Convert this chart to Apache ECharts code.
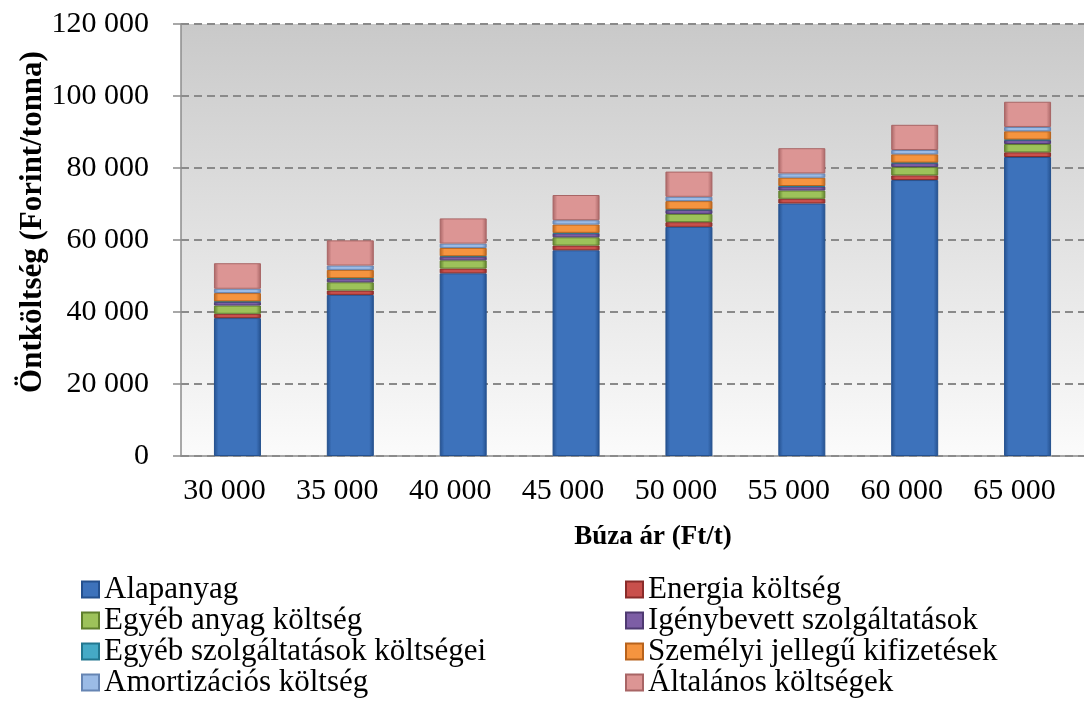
<!DOCTYPE html>
<html>
<head>
<meta charset="utf-8">
<script src="https://cdn.jsdelivr.net/npm/echarts@6/dist/echarts.min.js"></script>
<style>
  html, body { margin: 0; padding: 0; background: #fff; }
  #chart { width: 1084px; height: 701px; }
</style>
</head>
<body>
<div id="chart"></div>
<script>
// Búza ár (Ft/t) kategóriák
var categories = ['30 000', '35 000', '40 000', '45 000', '50 000', '55 000', '60 000', '65 000']

// költségelemek (Ft/tonna)
var alapanyag = [38300, 44750, 50750, 57150, 63650, 70150, 76650, 83050]
var energia = [1200, 1200, 1300, 1300, 1300, 1300, 1300, 1300]
var egyebAnyag = [2300, 2300, 2300, 2300, 2300, 2300, 2300, 2300]
var igenybevett = [1000, 1000, 1000, 1100, 1100, 1100, 1100, 1100]
var egyebSzolg = [150, 150, 150, 150, 150, 150, 150, 150]
var szemelyi = [2300, 2300, 2300, 2300, 2300, 2300, 2300, 2300]
var amortizacio = [1200, 1200, 1200, 1200, 1200, 1200, 1200, 1200]
var altalanos = [7100, 7000, 7000, 7000, 7000, 7000, 7000, 7000]

var seriesNames = ['Alapanyag', 'Energia költség', 'Egyéb anyag költség', 'Igénybevett szolgáltatások',
    'Egyéb szolgáltatások költségei', 'Személyi jellegű kifizetések', 'Amortizációs költség', 'Általános költségek']
var seriesData = [alapanyag, energia, egyebAnyag, igenybevett, egyebSzolg, szemelyi, amortizacio, altalanos]
// [fő szín, sötét él]
var colors = [
    ['#3d72bb', '#24508e'],
    ['#c9504c', '#8a2c2a'],
    ['#9dc25a', '#5f7f2c'],
    ['#7d5ea5', '#4f3a72'],
    ['#45aac6', '#22778f'],
    ['#f5943f', '#b8631c'],
    ['#9bbbe6', '#6685b3'],
    ['#dc9594', '#a86565']
]

var font = 'Liberation Serif, Times New Roman, serif'

function bevel(c) {
    return {
        type: 'linear', x: 0, y: 0, x2: 1, y2: 0,
        colorStops: [
            { offset: 0, color: c[1] },
            { offset: 0.1, color: c[0] },
            { offset: 0.9, color: c[0] },
            { offset: 1, color: c[1] }
        ]
    }
}

var series = []
for (var i = 0; i < seriesNames.length; i++) {
    series.push({
        name: seriesNames[i],
        type: 'bar',
        stack: 'total',
        barWidth: 47,
        data: seriesData[i],
        itemStyle: {
            color: bevel(colors[i]),
            borderColor: colors[i][1],
            borderWidth: 1
        },
        emphasis: { disabled: true }
    })
}

var legendStyle = {
    orient: 'vertical',
    top: 574,
    height: 130,
    padding: 0,
    itemGap: 0,
    itemWidth: 17,
    itemHeight: 16,
    icon: 'rect',
    textStyle: { fontFamily: font, fontSize: 31, color: '#000', lineHeight: 31 }
}

var option = {
    animation: false,
    backgroundColor: '#fff',
    grid: {
        left: 181,
        right: -1,
        top: 24,
        bottom: 245,
        show: true,
        borderWidth: 0,
        backgroundColor: {
            type: 'linear', x: 0, y: 0, x2: 0, y2: 1,
            colorStops: [
                { offset: 0, color: '#c9c9c9' },
                { offset: 1, color: '#fbfbfb' }
            ]
        }
    },
    legend: [
        Object.assign({ left: 81, data: [seriesNames[0], seriesNames[2], seriesNames[4], seriesNames[6]] }, legendStyle),
        Object.assign({ left: 625, data: [seriesNames[1], seriesNames[3], seriesNames[5], seriesNames[7]] }, legendStyle)
    ],
    xAxis: {
        type: 'category',
        data: categories,
        axisLine: { lineStyle: { color: '#8c8c8c', width: 1.5 } },
        axisTick: { length: 8, lineStyle: { color: '#8c8c8c', width: 1.5 } },
        axisLabel: {
            fontFamily: font, fontSize: 30, color: '#000',
            margin: 20, padding: [0, 26, 0, 0]
        }
    },
    yAxis: {
        type: 'value',
        min: 0,
        max: 120000,
        interval: 20000,
        axisLine: { show: true, lineStyle: { color: '#8c8c8c', width: 1.5 } },
        axisTick: { show: true, length: 8, lineStyle: { color: '#8c8c8c', width: 1.5 } },
        axisLabel: {
            fontFamily: font, fontSize: 30, color: '#000', margin: 32,
            formatter: function (v) {
                return String(v).replace(/\B(?=(\d{3})+(?!\d))/g, ' ')
            }
        },
        splitLine: { lineStyle: { color: '#8a8a8a', width: 2, type: [8, 5] } }
    },
    graphic: [
        {
            type: 'text',
            x: 33, y: 222,
            rotation: Math.PI / 2,
            style: {
                text: 'Öntköltség (Forint/tonna)',
                font: 'bold 31px ' + font,
                fill: '#000',
                align: 'center',
                verticalAlign: 'middle'
            }
        },
        {
            type: 'text',
            x: 653, y: 537,
            style: {
                text: 'Búza ár (Ft/t)',
                font: 'bold 27px ' + font,
                fill: '#000',
                align: 'center',
                verticalAlign: 'middle'
            }
        }
    ],
    series: series
}

var myChart = echarts.init(document.getElementById('chart'))
myChart.setOption(option)
</script>
</body>
</html>
